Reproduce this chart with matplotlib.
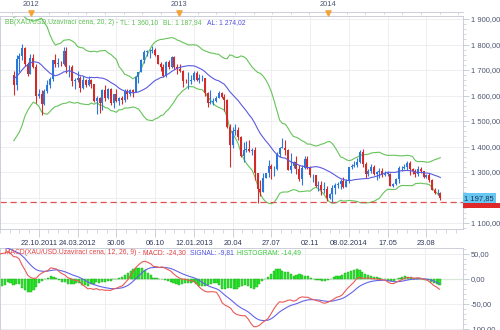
import numpy as np
import pandas as pd
import matplotlib
matplotlib.use('Agg')
import matplotlib.pyplot as plt
from matplotlib.patches import Rectangle

plt.rcParams['font.family'] = ['Liberation Sans', 'DejaVu Sans']

# weekly XAU/USD closes before the first visible candle (indicator warm-up)
warmup_close = [1369, 1361, 1342, 1341, 1349, 1361, 1388, 1409,
                1429, 1421, 1418, 1437, 1429, 1474, 1486, 1504, 1556, 1491,
                1493, 1514, 1536, 1542, 1529, 1540, 1501, 1486, 1543, 1594,
                1602, 1628, 1663, 1744, 1852, 1828, 1876, 1856, 1814, 1657,
                1624, 1636, 1681]

# visible weekly candles, 21.10.2011 .. 03.10.2014
close = [1642, 1745, 1754, 1788, 1724, 1685, 1746, 1712, 1598, 1606,
         1565, 1616, 1640, 1664, 1738, 1725, 1725, 1724, 1775, 1710,
         1712, 1655, 1662, 1668, 1631, 1659, 1642, 1662, 1645, 1580,
         1592, 1572, 1622, 1590, 1627, 1572, 1604, 1579, 1589, 1582,
         1618, 1604, 1621, 1615, 1671, 1692, 1740, 1771, 1773, 1773,
         1780, 1757, 1723, 1712, 1676, 1731, 1713, 1751, 1711, 1702,
         1696, 1657, 1656, 1656, 1662, 1687, 1659, 1667, 1667, 1609,
         1572, 1576, 1577, 1592, 1608, 1596, 1581, 1476, 1405, 1462,
         1465, 1436, 1364, 1386, 1392, 1383, 1388, 1297, 1234, 1223,
         1277, 1296, 1322, 1310, 1312, 1371, 1395, 1395, 1387, 1308,
         1325, 1338, 1310, 1272, 1315, 1352, 1315, 1287, 1288, 1244,
         1250, 1230, 1235, 1197, 1213, 1237, 1248, 1254, 1264, 1240,
         1263, 1318, 1324, 1326, 1339, 1379, 1333, 1294, 1303, 1318,
         1293, 1300, 1302, 1290, 1293, 1293, 1245, 1252, 1274, 1315,
         1316, 1320, 1337, 1310, 1303, 1294, 1310, 1305, 1280, 1287,
         1269, 1230, 1216, 1218, 1197.85]

high = [1695, 1760, 1766, 1802, 1792, 1730, 1764, 1763, 1722, 1625,
        1620, 1626, 1660, 1673, 1739, 1764, 1748, 1737, 1790, 1792,
        1720, 1718, 1670, 1698, 1677, 1677, 1664, 1676, 1665, 1645,
        1598, 1596, 1627, 1640, 1631, 1629, 1606, 1627, 1596, 1597,
        1625, 1624, 1626, 1626, 1675, 1693, 1742, 1778, 1779, 1782,
        1796, 1786, 1754, 1731, 1722, 1735, 1738, 1754, 1754, 1723,
        1725, 1700, 1666, 1693, 1679, 1695, 1696, 1684, 1682, 1669,
        1615, 1620, 1590, 1597, 1616, 1613, 1605, 1587, 1487, 1477,
        1488, 1477, 1440, 1417, 1421, 1424, 1395, 1398, 1297, 1267,
        1298, 1298, 1348, 1331, 1324, 1378, 1400, 1434, 1424, 1392,
        1375, 1344, 1361, 1327, 1329, 1361, 1362, 1322, 1293, 1290,
        1266, 1266, 1261, 1247, 1217, 1248, 1255, 1259, 1273, 1280,
        1274, 1318, 1332, 1345, 1355, 1385, 1392, 1341, 1311, 1331,
        1328, 1304, 1315, 1315, 1305, 1304, 1295, 1256, 1278, 1324,
        1325, 1332, 1345, 1345, 1315, 1311, 1322, 1320, 1305, 1294,
        1297, 1271, 1236, 1232, 1222]

low = [1603, 1621, 1691, 1740, 1716, 1676, 1685, 1706, 1571, 1590,
       1523, 1563, 1608, 1628, 1657, 1711, 1711, 1714, 1721, 1688,
       1673, 1639, 1627, 1654, 1614, 1627, 1632, 1639, 1631, 1573,
       1527, 1532, 1545, 1578, 1585, 1563, 1550, 1574, 1564, 1567,
       1573, 1586, 1599, 1593, 1615, 1650, 1692, 1728, 1755, 1749,
       1767, 1754, 1722, 1698, 1672, 1673, 1703, 1709, 1705, 1685,
       1693, 1635, 1651, 1626, 1645, 1658, 1656, 1651, 1656, 1599,
       1554, 1565, 1562, 1573, 1591, 1591, 1539, 1474, 1321, 1395,
       1444, 1427, 1359, 1339, 1377, 1378, 1366, 1269, 1180, 1207,
       1222, 1275, 1281, 1272, 1283, 1308, 1358, 1395, 1366, 1306,
       1295, 1316, 1292, 1263, 1251, 1310, 1311, 1280, 1262, 1240,
       1227, 1211, 1216, 1185, 1193, 1182, 1212, 1236, 1235, 1238,
       1240, 1258, 1312, 1321, 1321, 1336, 1321, 1277, 1284, 1295,
       1290, 1268, 1277, 1282, 1286, 1284, 1244, 1240, 1250, 1256,
       1305, 1310, 1306, 1290, 1292, 1282, 1286, 1296, 1275, 1275,
       1262, 1228, 1214, 1208, 1190]

support_level = 1182.0
date_labels = ['22.10.2011', '24.03.2012', '30.06', '06.10', '12.01.2013',
               '20.04', '27.07', '02.11', '08.02.2014', '17.05', '23.08']
date_ticks = [9 + 14 * k for k in range(len(date_labels))]
years = ['2012', '2013', '2014']
year_ticks = [11, 63, 115]

bb_legend = [('BB(XAU/USD.Uzavírací cena, 20, 2) -', '#5cbf52', 5),
             ('TL: 1 360,10', '#5cbf52', 120),
             ('BL: 1 187,94', '#5cbf52', 163),
             ('AL: 1 274,02', '#5050e0', 207)]
macd_legend = [('MACD(XAU/USD.Uzavírací cena, 12, 26, 9) -', '#e04040', 5),
               ('MACD: -24,30', '#e04040', 143),
               ('SIGNAL: -9,81', '#5050e0', 190),
               ('HISTOGRAM: -14,49', '#3cc83c', 237)]

UP = '#2a78dc'
DOWN = '#d42a2a'
BAND = '#66c45a'
MID = '#5a5ae0'
GRID = '#ebebf0'
FRAME = '#c4c8d4'
LABEL = '#4c5470'
FS = 5.4
FS_LEG = 4.9


def cz(v):
    """Czech number format: 1 900,00"""
    return f'{v:,.2f}'.replace(',', ' ').replace('.', ',')


# indicators computed on the full close history
full = pd.Series(np.r_[warmup_close, close], dtype=float)
n0 = len(warmup_close)
mid = full.rolling(20).mean()
sd = full.rolling(20).std(ddof=0)
upper = (mid + 2 * sd).values[n0:]
lower = (mid - 2 * sd).values[n0:]
sma = mid.values[n0:]
ema12 = full.ewm(span=12, adjust=False).mean()
ema26 = full.ewm(span=26, adjust=False).mean()
macd = ema12 - ema26
signal = macd.ewm(span=9, adjust=False).mean()
hist = (macd - signal).values[n0:]
macd = macd.values[n0:]
signal = signal.values[n0:]

close = np.array(close, dtype=float)
open_ = np.r_[warmup_close[-1], close[:-1]]
high = np.maximum(np.array(high, dtype=float), np.maximum(open_, close))
low = np.minimum(np.array(low, dtype=float), np.minimum(open_, close))
x = np.arange(len(close))
xlim = (0.3, 162.2)

W, H = 500, 330
fig = plt.figure(figsize=(W / 100, H / 100), dpi=100)


def px_axes(x0, y0, x1, y1):
    return fig.add_axes([x0 / W, 1 - y1 / H, (x1 - x0) / W, (y1 - y0) / H])


def legend_row(y, pieces):
    for txt, col, xp in pieces:
        fig.text(xp / W, 1 - y / H, txt, color=col, fontsize=FS_LEG,
                 va='center', ha='left', zorder=1)


def style_axes(a):
    a.grid(True, which='major', color=GRID, lw=0.6, zorder=0)
    for s in a.spines.values():
        s.set_color(FRAME)
        s.set_linewidth(0.6)
    a.tick_params(axis='y', which='major', labelsize=FS, colors=FRAME, labelcolor=LABEL,
                  length=4, width=0.6, pad=1.5)
    a.tick_params(axis='y', which='minor', colors=FRAME, length=2, width=0.5)


ax = px_axes(0, 16, 463, 229)
axm = px_axes(0, 248, 463, 331)
axy = px_axes(0, 0, 463, 16)

# ---- price panel
up = close >= open_
cols = np.where(up, UP, DOWN)
ax.vlines(x, low, high, colors=cols, lw=0.8, zorder=3)
ax.bar(x, np.maximum(np.abs(close - open_), 1.5), bottom=np.minimum(open_, close),
       width=0.74, color=cols, linewidth=0, zorder=4)
ax.plot(x, upper, color=BAND, lw=0.8, zorder=2)
ax.plot(x, lower, color=BAND, lw=0.8, zorder=2)
ax.plot(x, sma, color=MID, lw=0.8, zorder=5)
ax.axhline(support_level, color='#e05050', lw=0.9, ls=(0, (5, 3)), zorder=2)

ax.set_xlim(*xlim)
ax.set_ylim(1076.5, 1911.8)
ax.set_yticks(np.arange(1100, 1901, 100))
ax.set_yticks(np.arange(1080, 1911, 20), minor=True)
ax.yaxis.tick_right()
# the 1 200 label sits under the last-close tag
ax.yaxis.set_major_formatter(plt.FuncFormatter(lambda v, p: '' if v == 1200 else cz(v)))
ax.set_xticks(date_ticks)
ax.set_xticklabels(date_labels)
ax.set_xticks(np.arange(date_ticks[0] - 14, xlim[1], 3.5), minor=True)
style_axes(ax)
ax.tick_params(axis='x', which='major', labelsize=FS, colors=FRAME, labelcolor='#2e3858',
               length=6, width=0.6, pad=2)
ax.tick_params(axis='x', which='minor', colors=FRAME, length=3, width=0.5)

# price tags on the right scale: level tag sits under the last-close tag
ytr = ax.get_yaxis_transform()
ax.add_patch(Rectangle((1.0, support_level - 22), 0.08, 17, transform=ytr,
                       fc='#e02828', ec='none', clip_on=False, zorder=6))
ax.text(1.003, close[-1], cz(close[-1]), transform=ytr, fontsize=FS,
        color='#203050', va='center', ha='left', clip_on=False, zorder=7,
        bbox=dict(boxstyle='square,pad=0.2', fc='#66c8f2', ec='none'))

# ---- MACD panel
axm.bar(x, hist, width=0.78, color='#2ee62e', edgecolor='#1aa81a', linewidth=0.3, zorder=2)
axm.axhline(0, color='#7ed87e', lw=0.8, zorder=1)
axm.plot(x, signal, color='#6464e8', lw=0.8, zorder=3)
axm.plot(x, macd, color='#ea5a56', lw=0.8, zorder=4)
axm.set_xlim(*xlim)
axm.set_ylim(-104, 62)
axm.set_yticks([-100, -50, 0, 50])
axm.set_yticks(np.arange(-100, 61, 10), minor=True)
axm.yaxis.tick_right()
axm.yaxis.set_major_formatter(plt.FuncFormatter(lambda v, p: cz(v)))
axm.set_xticks(date_ticks)
axm.set_xticklabels([])
style_axes(axm)
axm.tick_params(axis='x', length=0)

legend_row(23, bb_legend)
legend_row(253, macd_legend)

# ---- year strip
axy.set_xlim(*xlim)
axy.set_ylim(16, 0)
axy.axis('off')
axy.plot(xlim, [11.5, 11.5], color=FRAME, lw=0.6, clip_on=False)
for t in np.arange(year_ticks[0] - 52, xlim[1], 52 / 8):
    axy.plot([t, t], [11.5, 14], color=FRAME, lw=0.5)
for t, lab in zip(year_ticks, years):
    axy.text(t, 5, lab, ha='center', va='center', fontsize=FS, color=LABEL)
    axy.scatter([t], [13], marker='v', s=14, color='#f2a43a', zorder=3, clip_on=False)

fig.savefig('out.png', dpi=100, facecolor='white')
